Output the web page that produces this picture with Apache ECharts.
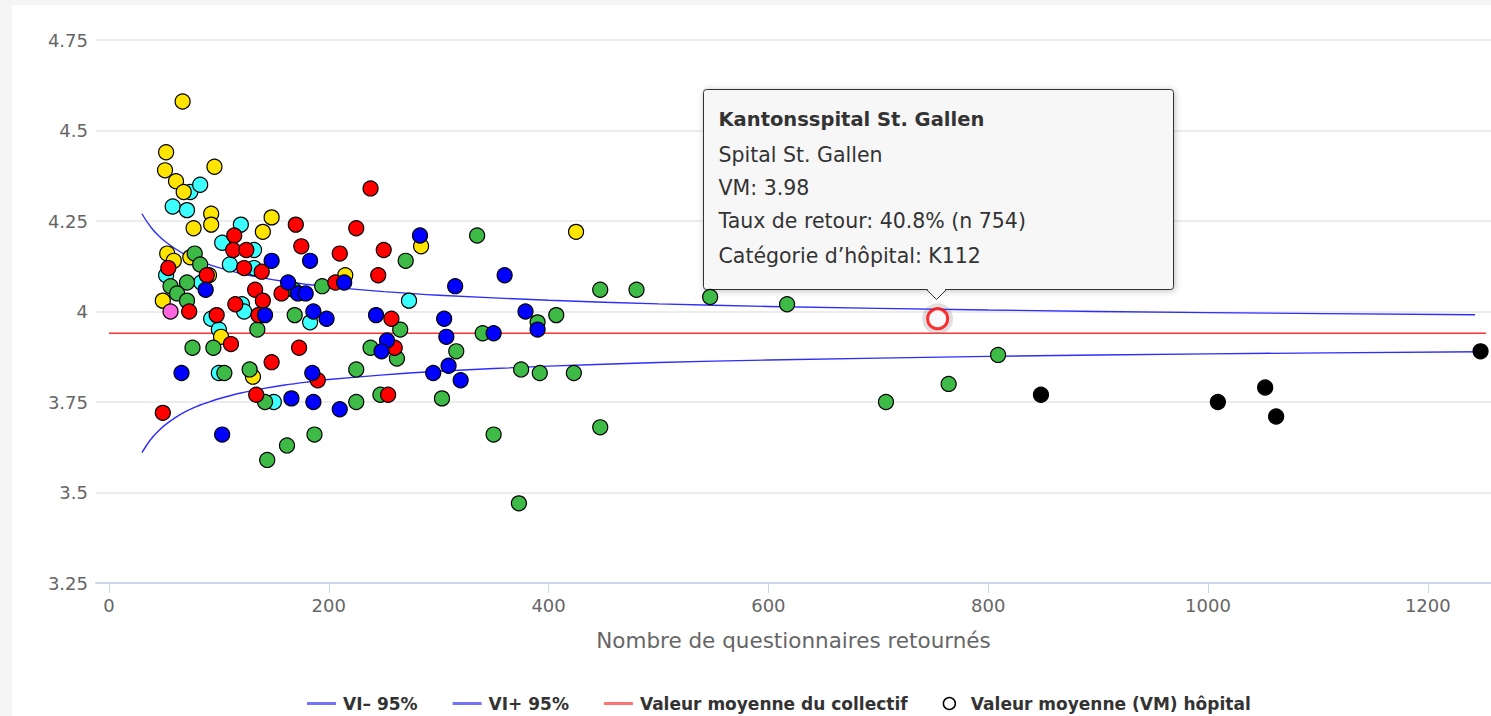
<!DOCTYPE html>
<html><head><meta charset="utf-8">
<script src="https://cdn.jsdelivr.net/npm/echarts@6/dist/echarts.min.js"></script>
<style>
html,body{margin:0;padding:0;background:#f5f5f5;width:1491px;height:716px;overflow:hidden}
#c{position:absolute;left:12px;top:5px;width:1479px;height:711px;background:#fff}
</style></head><body><div id="c"></div>
<script>
// ---- data: [n questionnaires, valeur moyenne] ----
const yellowPts = [[67,4.58],[52,4.44],[51,4.39],[61,4.36],[68,4.33],[96,4.40],[93,4.27],[93,4.24],[77,4.23],[148,4.26],[140,4.22],[53,4.16],[74,4.15],[59,4.14],[49,4.03],[91,4.10],[102,3.93],[131,3.82],[215,4.10],[284,4.18],[425,4.22]];
const cyanPts = [[74,4.33],[83,4.35],[58,4.29],[71,4.28],[120,4.24],[103,4.19],[132,4.17],[110,4.13],[132,4.12],[52,4.10],[84,4.08],[121,4.02],[123,4.00],[93,3.98],[100,3.95],[183,3.97],[273,4.03],[100,3.83],[150,3.75]];
const redPts = [[170,4.24],[238,4.34],[225,4.23],[114,4.21],[113,4.17],[125,4.17],[175,4.18],[210,4.16],[250,4.17],[123,4.12],[139,4.11],[245,4.10],[54,4.12],[89,4.10],[133,4.06],[140,4.03],[157,4.05],[206,4.08],[115,4.02],[73,4.00],[136,3.99],[98,3.99],[111,3.91],[173,3.90],[257,3.98],[260,3.90],[148,3.86],[190,3.81],[134,3.77],[254,3.77],[49,3.72]];
const bluePts = [[148,4.14],[183,4.14],[163,4.08],[88,4.06],[172,4.05],[179,4.05],[214,4.08],[283,4.21],[142,3.99],[186,4.00],[198,3.98],[243,3.99],[253,3.92],[248,3.89],[66,3.83],[185,3.83],[166,3.76],[186,3.75],[210,3.73],[103,3.66],[360,4.10],[315,4.07],[379,4.00],[390,3.95],[305,3.98],[307,3.93],[350,3.94],[309,3.85],[295,3.83],[320,3.81]];
const greenPts = [[78,4.16],[83,4.13],[71,4.08],[56,4.07],[62,4.05],[71,4.03],[76,3.90],[95,3.90],[135,3.95],[169,3.99],[194,4.07],[270,4.14],[265,3.95],[262,3.87],[238,3.90],[105,3.83],[128,3.84],[225,3.84],[142,3.75],[225,3.75],[247,3.77],[187,3.66],[162,3.63],[144,3.59],[335,4.21],[447,4.06],[480,4.06],[547,4.04],[617,4.02],[407,3.99],[390,3.97],[340,3.94],[316,3.89],[375,3.84],[392,3.83],[423,3.83],[303,3.76],[350,3.66],[447,3.68],[373,3.47],[707,3.75],[764,3.80],[809,3.88],[168,4.06]];
const pinkPts = [[56,4.00]];
const blackPts = [[848,3.77],[1009,3.75],[1052,3.79],[1062,3.71],[1248,3.89]];

const viPlusN  = [30, 35, 40, 45, 50, 60, 70, 80, 90, 100, 120, 140, 160, 180, 200, 250, 300, 400, 500, 600, 800, 1000, 1243];
const viPlusV  = [4.270, 4.246, 4.226, 4.210, 4.196, 4.174, 4.156, 4.142, 4.131, 4.121, 4.105, 4.093, 4.083, 4.075, 4.068, 4.055, 4.045, 4.031, 4.021, 4.014, 4.004, 3.997, 3.991];
const viMinusN = [30, 35, 40, 45, 50, 60, 70, 80, 90, 100, 120, 140, 160, 180, 200, 250, 300, 400, 500, 600, 800, 1000, 1248];
const viMinusV = [3.610, 3.634, 3.654, 3.670, 3.684, 3.706, 3.724, 3.738, 3.749, 3.759, 3.775, 3.787, 3.797, 3.805, 3.812, 3.825, 3.835, 3.849, 3.859, 3.866, 3.876, 3.883, 3.889];
const meanN = [0, 1253];
const meanValue = 3.94;

const xTickValues = [0, 200, 400, 600, 800, 1000, 1200];
const yMin = 3.25, yMax = 4.75, yStep = 0.25;

const selected = {n: 754, vm: 3.98, title: 'Kantonsspital St. Gallen', site: 'Spital St. Gallen', rate: '40.8%', cat: 'K112'};

const seriesNames = ['VI\u2013 95%', 'VI+ 95%', 'Valeur moyenne du collectif', 'Valeur moyenne (VM) h\u00f4pital'];

// ---- build ----
const FONT = '"DejaVu Sans", Verdana, sans-serif';
const groups = [
  [cyanPts, '#3cffff'], [yellowPts, '#ffe400'], [greenPts, '#3dbb46'],
  [redPts, '#ff0000'], [bluePts, '#0000ff'], [pinkPts, '#ff66dd'], [blackPts, '#000000']
];
const hospData = [];
groups.forEach(([pts, col]) => pts.forEach(p => hospData.push({value: p, itemStyle: {color: col}})));
const zip = (a, b) => a.map((v, i) => [v, b[i]]);
const lineIcon = 'path://M0,0 M0,4.5 L29,4.5 L29,7.5 L0,7.5 Z M29,12';

const chart = echarts.init(document.getElementById('c'), null, {renderer: 'svg'});
chart.setOption({
  animation: false,
  backgroundColor: '#ffffff',
  grid: {left: 84, right: 0, top: 35, bottom: 133, containLabel: false},
  xAxis: {
    type: 'value', min: -11.8, max: 1257.5,
    name: 'Nombre de questionnaires retourn\u00e9s', nameLocation: 'middle', nameGap: 46,
    nameTextStyle: {color: '#666', fontSize: 21.5, fontFamily: FONT},
    axisLine: {show: true, lineStyle: {color: '#ccd6eb', width: 2}},
    axisTick: {show: true, length: 10, lineStyle: {color: '#ccd6eb', width: 1}, customValues: xTickValues},
    axisLabel: {color: '#666', fontSize: 18, fontFamily: FONT, margin: 13, customValues: xTickValues, formatter: v => String(v)},
    splitLine: {show: false}
  },
  yAxis: {
    type: 'value', min: yMin, max: yMax, interval: yStep,
    axisLine: {show: false}, axisTick: {show: false},
    axisLabel: {color: '#666', fontSize: 18, fontFamily: FONT, margin: 8},
    splitLine: {lineStyle: {color: '#e6e6e6', width: 1.5}}
  },
  legend: {
    left: 295, top: 690, padding: 0, itemWidth: 29, itemHeight: 12, itemGap: 35,
    textStyle: {color: '#333', fontSize: 17, fontWeight: 'bold', fontFamily: FONT, padding: [0, 0, 0, 2]},
    data: [
      {name: seriesNames[0], icon: lineIcon, itemStyle: {color: '#7373ff', borderWidth: 0}},
      {name: seriesNames[1], icon: lineIcon, itemStyle: {color: '#7373ff', borderWidth: 0}},
      {name: seriesNames[2], icon: lineIcon, itemStyle: {color: '#ff7373', borderWidth: 0}},
      {name: seriesNames[3], icon: 'circle', itemStyle: {color: '#ffffff', borderColor: '#000', borderWidth: 1.5}}
    ]
  },
  series: [
    {name: seriesNames[0], type: 'line', data: zip(viMinusN, viMinusV), symbol: 'none', smooth: 0.3,
     lineStyle: {color: '#2d2dff', width: 1.4}, itemStyle: {color: '#2d2dff'}, z: 2, silent: true},
    {name: seriesNames[1], type: 'line', data: zip(viPlusN, viPlusV), symbol: 'none', smooth: 0.3,
     lineStyle: {color: '#2d2dff', width: 1.4}, itemStyle: {color: '#2d2dff'}, z: 2, silent: true},
    {name: seriesNames[2], type: 'line', data: meanN.map(n => [n, meanValue]), symbol: 'none',
     lineStyle: {color: '#ff3535', width: 1.4}, itemStyle: {color: '#ff3535'}, z: 2, silent: true},
    {name: seriesNames[3], type: 'scatter', data: hospData, symbolSize: 15,
     itemStyle: {borderColor: '#000', borderWidth: 1.2, opacity: 1}, z: 3},
    {name: 'halo', type: 'scatter', data: [[selected.n, selected.vm]], symbolSize: 31,
     itemStyle: {color: 'rgba(110,110,110,0.28)'}, z: 4, silent: true},
    {name: 'sel', type: 'scatter', data: [[selected.n, selected.vm]], symbolSize: 20,
     itemStyle: {color: '#ffffff', borderColor: '#ff0000', borderWidth: 3}, z: 5, silent: true}
  ]
});

// tooltip callout drawn at the selected point
const [px, py] = chart.convertToPixel({gridIndex: 0}, [selected.n, selected.vm]);
const W = 470, H = 200, ax = 233;
const gx = Math.round(px - ax) - 1.5, gy = Math.round(py - 228) - 1.5;
const lines = [
  {t: selected.title, y: 30, w: 'bold', s: 19.5},
  {t: selected.site, y: 65, w: 'normal', s: 20.5},
  {t: 'VM: ' + selected.vm.toFixed(2), y: 98, w: 'normal', s: 20.5},
  {t: 'Taux de retour: ' + selected.rate + ' (n ' + selected.n + ')', y: 131, w: 'normal', s: 20.5},
  {t: 'Cat\u00e9gorie d\u2019h\u00f4pital: ' + selected.cat, y: 166, w: 'normal', s: 20.5}
];
const children = [
  {type: 'rect', shape: {x: 0, y: 0, width: W, height: H, r: 3},
   style: {fill: '#f7f7f7', stroke: '#333333', lineWidth: 1, shadowBlur: 6, shadowColor: 'rgba(0,0,0,0.25)', shadowOffsetX: 1, shadowOffsetY: 1}},
  {type: 'polygon', shape: {points: [[ax - 10, H - 1.5], [ax + 10, H - 1.5], [ax, H + 10]]}, style: {fill: '#f7f7f7', stroke: null}},
  {type: 'polyline', shape: {points: [[ax - 10, H], [ax, H + 10], [ax + 10, H]]}, style: {fill: null, stroke: '#333333', lineWidth: 1}}
];
lines.forEach(l => children.push({
  type: 'text', x: 15, y: l.y,
  style: {text: l.t, fill: '#333333', fontSize: l.s, fontWeight: l.w, fontFamily: FONT, verticalAlign: 'middle', align: 'left'}
}));
chart.setOption({graphic: [{type: 'group', x: gx, y: gy, z: 100, children: children}]});
</script></body></html>
